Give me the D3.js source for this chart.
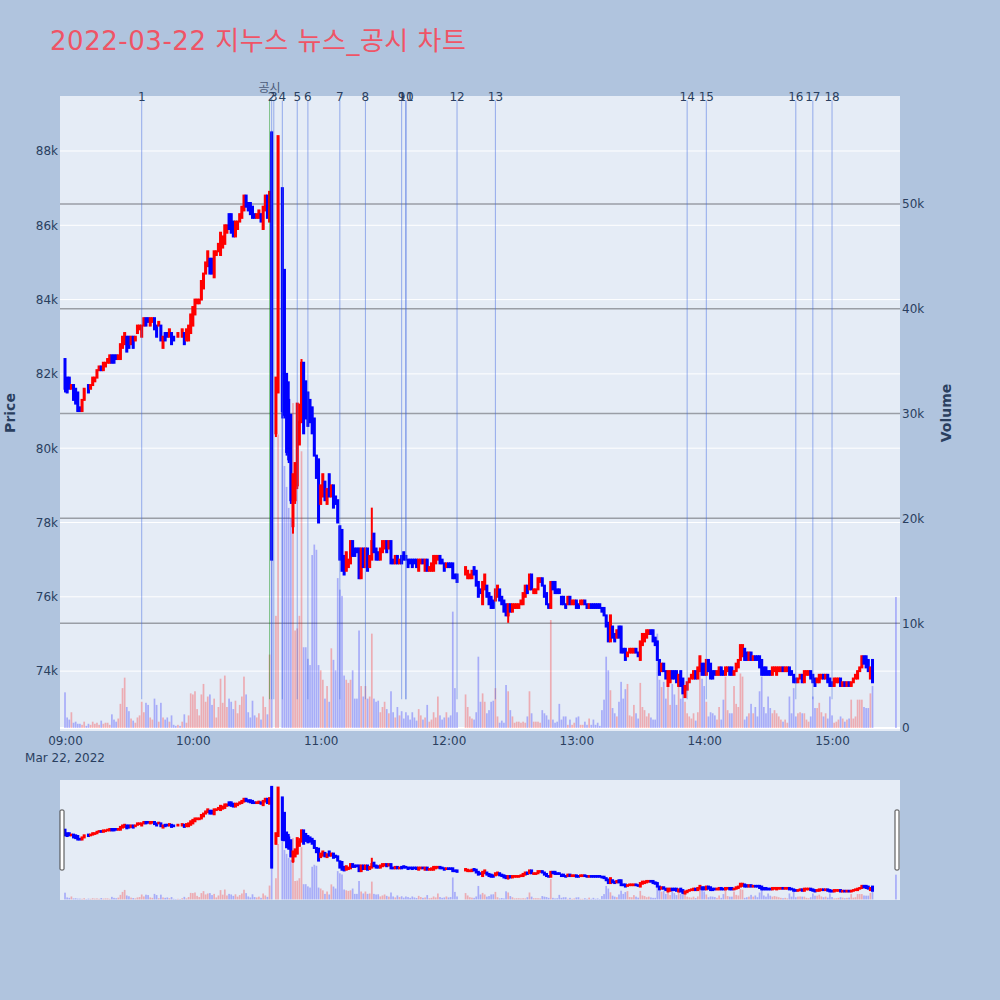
<!DOCTYPE html>
<html><head><meta charset="utf-8">
<script src="https://cdn.jsdelivr.net/npm/d3@7"></script>
<style>
body{margin:0;background:#b0c4de;}
svg{display:block;}
text{font-family:"DejaVu Sans","Noto Sans CJK KR",sans-serif;}
</style></head><body>
<svg id="c" width="1000" height="1000"></svg>
<script>
// ---------------- DATA ----------------
const chartTitle = "2022-03-22 지누스 뉴스_공시 차트";
const tradeDay = [2022, 2, 22];           // year, month index, day
const sessionStart = [9, 0];               // index i = minutes after 09:00
const priceUnit = 100;                     // values below are in units of 100 KRW
const open = [
824,819,819,816,817,816,815,811,810,813, 816,817,816,817,818,819,821,822,821,822,
823,823,825,825,825,824,824,827,828,830, 830,828,830,829,831,832,830,833,835,835,
833,834,835,833,833,833,827,831,831,830, 831,830,830,830,831,830,831,829,829,831,
833,836,839,839,840,843,847,849,851,851, 846,852,853,852,854,855,858,863,863,861,
857,859,861,862,864,868,866,866,865,863, 862,862,863,859,864,868,861,885,null,804,
815,null,870,848,820,813,809,779,786,790, 801,807,823,818,815,813,811,808,798,797,
785,787,791,785,793,787,790,787,786,779, 778,771,767,768,769,775,773,773,773,765,
773,768,773,768,770,777,773,772,770,772, 773,775,773,775,770,769,771,769,771,772,
771,770,770,770,770,770,767,769,770,767, 770,767,767,767,769,770,771,770,769,768,
769,769,769,766,766,null,null,null,766,765, 765,765,768,767,764,762,758,762,763,761,
760,759,759,760,762,760,759,758,755,758, 756,757,757,757,758,758,760,763,762,766,
761,761,762,764,765,763,761,758,757,764, 764,762,762,760,760,758,758,760,758,758,
759,758,758,758,759,758,757,758,758,758, 758,758,757,757,755,753,748,752,750,749,
752,752,746,746,744,745,745,745,746,745, 743,747,748,749,750,751,751,749,748,743,
740,742,740,736,737,740,740,740,736,740, 738,733,735,737,738,738,740,738,740,742,
742,739,743,742,740,740,739,739,741,740, 739,740,741,741,739,740,741,743,744,746,
745,743,745,743,744,744,744,743,741,741, 740,740,739,740,739,740,740,741,740,740,
741,740,739,738,737,738,739,737,739,739, 740,739,738,737,737,738,739,738,739,738,
737,736,737,737,738,736,737,736,737,736, 737,738,738,740,741,744,744,743,738,743,
null,null,null,null,null,null,null,null,null,null, 740];
const high = [
824,819,819,817,817,816,815,811,813,816, 816,817,817,819,819,821,822,822,823,823,
824,825,825,825,825,825,828,830,831,830, 830,830,830,830,833,833,833,835,835,835,
835,835,835,833,834,833,830,831,831,832, 831,830,830,831,831,832,831,832,833,836,
838,840,840,840,845,847,850,853,851,851, 853,853,855,858,857,860,860,863,863,861,
861,861,863,865,868,868,866,866,865,863, 863,864,863,865,868,868,869,885,null,819,
884,null,870,848,820,818,809,793,796,812, 812,824,823,818,815,813,811,808,798,797,
790,793,791,789,793,790,790,787,786,779, 778,771,772,770,775,775,773,773,773,773,
773,773,773,771,784,777,773,772,773,775, 775,775,775,775,770,771,771,770,771,772,
771,770,770,770,770,770,770,770,770,770, 770,768,769,771,771,771,771,770,769,769,
769,769,769,766,766,null,null,null,768,767, 766,767,768,767,764,762,764,766,763,761,
760,759,762,763,762,760,759,758,758,758, 758,758,758,758,759,761,763,763,766,766,
762,762,765,765,765,763,761,758,764,764, 764,762,762,760,760,758,760,760,759,759,
759,758,759,759,759,758,758,758,758,758, 758,758,757,757,755,753,755,752,750,751,
752,752,746,746,745,746,746,746,746,745, 748,750,750,751,751,751,751,749,748,743,
742,742,740,740,740,740,740,740,739,740, 738,736,737,738,739,740,740,741,744,742,
742,743,743,742,740,740,740,741,741,740, 741,741,741,741,740,742,743,747,747,746,
745,745,745,744,744,744,744,743,741,741, 740,740,741,741,741,741,741,741,741,741,
741,740,739,738,738,739,739,740,740,740, 740,739,738,738,739,739,739,739,739,738,
737,738,738,738,738,737,737,737,737,737, 738,739,740,741,744,744,744,743,741,743,
null,null,null,null,null,null,null,null,null,null, 740];
const low = [
815,815,816,816,813,812,810,810,810,813, 816,815,816,817,818,819,821,821,821,822,
823,823,823,823,824,824,824,827,828,826, 827,828,827,829,831,832,830,833,833,834,
833,834,832,830,833,829,827,829,830,830, 828,829,830,830,831,830,828,829,829,831,
833,836,839,839,840,843,847,849,847,847, 846,852,853,852,854,855,858,859,858,857,
857,859,861,862,864,865,864,863,862,862, 862,862,861,859,864,862,861,770,null,803,
815,null,808,808,798,796,785,777,785,789, 801,807,804,808,806,807,804,798,792,780,
785,787,786,785,787,787,784,785,780,770, 767,766,767,768,769,771,771,772,765,765,
768,768,767,768,770,772,770,770,770,772, 773,772,773,769,769,769,769,769,769,770,
770,768,769,768,769,768,767,769,769,767, 767,767,767,767,769,770,769,769,767,768,
768,768,765,765,764,null,null,null,766,765, 765,765,766,763,760,761,758,762,760,758,
757,757,759,760,759,758,756,755,753,756, 756,757,757,757,758,758,760,761,762,762,
761,761,762,764,763,760,758,757,757,762, 761,761,761,758,758,757,758,758,758,758,
757,757,758,758,758,757,757,757,757,757, 757,757,756,755,752,748,748,749,748,749,
749,745,745,743,744,745,745,745,745,744, 743,747,748,749,750,750,748,747,743,739,
740,740,738,736,737,738,738,737,736,736, 734,733,735,737,738,738,738,738,740,739,
739,739,740,738,738,739,739,739,739,739, 739,740,739,739,739,740,741,743,744,743,
743,743,743,743,743,743,741,739,739,739, 739,739,739,740,739,740,740,740,740,740,
739,739,737,737,737,738,737,737,739,739, 738,737,736,737,737,738,738,738,737,736,
736,736,737,737,736,736,736,736,736,736, 737,738,738,740,741,742,741,740,738,737,
null,null,null,null,null,null,null,null,null,null, 740];
const close = [
816,815,816,817,813,812,810,810,813,816, 816,815,817,819,819,821,822,821,823,823,
824,825,823,823,824,825,828,830,831,826, 827,830,827,830,833,833,833,835,833,834,
835,835,832,830,834,829,830,829,830,832, 828,829,830,831,831,832,828,832,833,836,
838,840,840,840,845,847,850,853,847,847, 853,853,855,858,857,860,860,859,858,857,
861,861,863,865,868,865,864,863,862,862, 863,864,861,865,868,862,869,770,null,819,
884,null,810,809,799,797,786,793,796,812, 807,823,804,808,806,807,804,798,792,780,
790,793,786,789,787,790,784,785,780,770, 767,766,772,770,775,771,771,772,765,773,
768,773,767,771,775,772,770,770,773,775, 775,772,775,769,769,771,769,770,769,770,
770,768,769,768,769,768,770,770,769,770, 767,768,769,771,771,771,769,769,767,769,
768,768,765,765,764,null,null,null,768,767, 766,767,766,763,760,761,764,766,760,758,
757,757,762,763,759,758,756,755,758,756, 758,758,758,758,759,761,763,761,766,762,
762,762,765,765,763,760,758,757,764,762, 761,761,761,758,758,757,760,758,759,759,
757,757,759,759,758,757,758,757,757,757, 757,757,756,755,752,748,755,749,748,751,
749,745,745,743,745,746,746,746,745,744, 748,750,750,751,751,750,748,747,743,739,
742,740,738,740,740,738,738,737,739,736, 734,736,737,738,739,740,738,741,744,739,
739,743,740,738,738,739,740,741,739,739, 741,741,739,739,740,742,743,747,747,743,
743,745,743,744,743,743,741,739,739,739, 739,739,741,741,741,741,741,740,741,741,
739,739,737,737,738,739,737,740,740,740, 738,737,736,738,739,739,738,739,737,736,
736,738,738,738,736,737,736,737,736,737, 738,739,740,741,744,742,741,740,741,737,
null,null,null,null,null,null,null,null,null,null, 740];
const volumeK = [  // thousands of shares
3.4,1.0,0.8,1.5,0.5,0.6,0.4,0.4,0.3,0.6, 0.2,0.4,0.3,0.6,0.4,0.5,0.3,0.7,0.4,0.5,
0.5,0.3,1.3,0.8,0.6,0.9,2.3,3.8,4.8,2.0, 1.6,0.9,0.7,0.5,1.0,1.2,2.5,1.5,2.4,2.2,
1.0,0.8,2.8,2.2,0.6,2.4,1.0,0.8,1.0,0.6, 1.2,0.3,0.2,0.3,0.2,0.6,1.3,0.5,1.2,3.3,
3.2,3.5,1.8,1.2,3.2,4.2,2.5,3.0,3.2,2.2, 2.8,1.0,2.0,4.7,2.4,5.0,2.0,2.8,2.5,1.8,
2.6,1.4,2.2,3.0,4.9,3.2,1.5,1.0,2.6,1.2, 1.0,1.4,0.8,3.0,2.0,1.3,7.0,57,null,10.7,
28,null,30,25,23,21,20,31,9.3,9.5, 10.7,26.4,7.7,7.7,6.6,6.0,16.5,17.5,17,6.0,
5.5,4.6,2.8,4.0,2.5,7.6,6.5,5.5,14.3,13.2, 12.6,5.0,4.6,4.3,4.6,5.5,2.8,2.8,9.3,4.0,
3.0,4.0,2.8,3.0,9.0,2.8,2.5,2.6,1.5,2.0, 2.5,1.8,1.4,3.5,1.5,1.0,2.0,1.2,1.6,0.9,
1.5,1.2,0.8,1.5,1.0,0.7,1.8,1.2,0.8,1.0, 2.2,0.6,0.8,1.5,1.0,3.0,1.2,0.8,1.0,1.5,
1.0,1.2,11.1,3.8,1.5,null,null,null,3.2,2.0, 1.1,0.9,0.8,1.5,6.8,2.5,3.3,2.5,1.4,1.7,
2.5,2.6,3.8,1.1,0.5,0.7,0.5,4.1,3.5,1.7, 1.1,0.5,0.6,0.6,0.5,0.6,0.5,1.1,3.5,1.4,
0.6,0.6,0.6,0.5,1.7,1.4,1.2,0.8,10.3,0.8, 0.5,0.6,2.3,0.8,1.1,1.1,0.3,0.8,0.3,0.5,
1.0,1.1,0.3,0.3,0.6,0.3,0.9,0.3,0.8,0.3, 0.5,0.2,1.7,2.7,6.8,5.5,3.6,1.9,1.4,1.1,
2.5,4.4,2.8,3.7,4.2,1.2,1.1,2.2,1.4,0.9, 4.3,2.0,1.7,1.1,1.4,1.0,0.8,0.8,9.0,4.6,
3.9,4.4,2.8,4.0,2.2,4.2,3.2,2.2,4.4,2.8, 3.2,2.5,1.4,1.1,0.9,1.4,0.7,1.5,6.8,4.7,
4.0,2.5,1.1,1.5,1.4,1.2,0.8,2.0,0.8,2.7, 4.9,1.7,1.4,1.4,4.0,2.3,2.0,5.2,4.9,0.8,
1.1,1.4,2.3,1.4,2.0,1.1,3.5,4.9,2.0,1.4, 3.0,1.9,1.4,1.7,1.4,1.1,0.8,0.6,0.8,0.5,
3.0,1.4,3.8,1.1,1.4,1.5,1.4,1.4,0.8,0.6, 1.1,3.0,1.9,1.9,2.4,1.5,1.1,1.4,0.9,3.0,
1.2,0.5,0.6,0.8,1.1,0.9,0.6,0.8,0.9,2.7, 0.9,1.1,2.7,2.7,2.7,2.0,1.9,1.9,3.3,4.0,
null,null,null,null,null,null,null,null,null,null, 12.5];

const newsLabels = ["1","2","3","4","5","6","7","8","9","10","11","12","13","14","15","16","17","18"];
const newsTimes  = ["09:36","10:37","10:38","10:42","10:49","10:54","11:09","11:21","11:38","11:40","11:40",
                    "12:04","12:22","13:52","14:01","14:43","14:51","15:00"];
const disclosureLabels = ["공시"];
const disclosureTimes  = ["10:36"];

const priceTicks  = [74000,76000,78000,80000,82000,84000,86000,88000];
const volumeTicks = [0,10000,20000,30000,40000,50000];
const timeTicks   = ["09:00","10:00","11:00","12:00","13:00","14:00","15:00"];
const dateLabel   = "Mar 22, 2022";
const priceRange  = [72388, 89480];
const volumeRange = [-290, 60300];

// ---------------- CHART ----------------
const svg = d3.select("#c");
const W = 1000, H = 1000;
const M = {l:60, r:900, t:96, b:731};
const S = {t:780, b:900};
const UP = "#ff0000", DOWN = "#0000ff";
const FONT = '"DejaVu Sans","Noto Sans CJK KR",sans-serif';

const t = hm => { const [h,m] = hm.split(":").map(Number); return new Date(tradeDay[0],tradeDay[1],tradeDay[2],h,m); };
const tIdx = i => new Date(tradeDay[0],tradeDay[1],tradeDay[2],sessionStart[0],sessionStart[1]+i);

const candles = open.map((o,i)=>({i, time:tIdx(i), o:o==null?null:o*priceUnit, h:high[i]==null?null:high[i]*priceUnit,
  l:low[i]==null?null:low[i]*priceUnit, c:close[i]==null?null:close[i]*priceUnit, v:volumeK[i]==null?null:volumeK[i]*1000}))
  .filter(d=>d.o!=null);

const x = d3.scaleTime()
  .domain([new Date(+tIdx(0) - 141000), new Date(+tIdx(open.length-1) + 114000)])
  .range([M.l, M.r]);
const yP = d3.scaleLinear().domain(priceRange).range([M.b, M.t]);
const yV = d3.scaleLinear().domain(volumeRange).range([M.b, M.t]);
const yPs = d3.scaleLinear().domain(priceRange).range([S.b, S.t]);
const yVs = d3.scaleLinear().domain(volumeRange).range([S.b, S.t]);

// backgrounds
svg.append("rect").attr("width",W).attr("height",H).attr("fill","#b0c4de");
svg.append("rect").attr("x",M.l).attr("y",M.t).attr("width",M.r-M.l).attr("height",M.b-M.t).attr("fill","#e5ecf6");

// title
svg.append("text").attr("x",50).attr("y",50).attr("font-size",26).attr("fill","#ef5466")
  .attr("textLength",416).attr("lengthAdjust","spacing").text(chartTitle);

// grid
const g = svg.append("g");
g.selectAll(".pg").data(priceTicks).join("line")
  .attr("x1",M.l).attr("x2",M.r).attr("y1",d=>yP(d)).attr("y2",d=>yP(d))
  .attr("stroke","#ffffff").attr("stroke-width",1);
g.selectAll(".vg").data(volumeTicks.filter(d=>d>0)).join("line")
  .attr("x1",M.l).attr("x2",M.r).attr("y1",d=>yV(d)).attr("y2",d=>yV(d))
  .attr("stroke","#9a9ea6").attr("stroke-width",1.5);
g.append("line").attr("x1",M.l).attr("x2",M.r).attr("y1",yV(0)).attr("y2",yV(0))
  .attr("stroke","#ffffff").attr("stroke-width",2);

function drawCandles(sel, yScale, yVol){
  const cg = sel.append("g");
  cg.selectAll("line").data(candles).join("line")
    .attr("x1",d=>x(d.time)).attr("x2",d=>x(d.time))
    .attr("y1",d=>yScale(d.h)).attr("y2",d=>yScale(d.l))
    .attr("stroke",d=>d.c>d.o?UP:DOWN).attr("stroke-width",2);
  cg.selectAll("rect").data(candles).join("rect")
    .attr("x",d=>x(d.time)-0.5).attr("width",1)
    .attr("y",d=>yScale(Math.max(d.o,d.c))).attr("height",d=>Math.abs(yScale(d.o)-yScale(d.c)))
    .attr("fill",d=>d.c>d.o?UP:DOWN).attr("stroke",d=>d.c>d.o?UP:DOWN).attr("stroke-width",2);
  const vg = sel.append("g");
  vg.selectAll("rect").data(candles.filter(d=>d.v!=null)).join("rect")
    .attr("x",d=>x(d.time)-0.85).attr("width",1.7)
    .attr("y",d=>yVol(d.v)).attr("height",d=>yVol(0)-yVol(d.v))
    .attr("fill",d=>d.c>d.o?"rgba(255,0,0,0.27)":"rgba(0,0,255,0.27)");
}
drawCandles(svg, yP, yV);

// news lines
const lineTop = M.t + 4.5, lineBot = M.b - 0.05*(M.b-M.t);
const nl = svg.append("g");
nl.selectAll("line.d").data(disclosureTimes).join("line")
  .attr("x1",d=>x(t(d))).attr("x2",d=>x(t(d))).attr("y1",lineTop).attr("y2",lineBot)
  .attr("stroke","rgba(0,140,0,0.45)").attr("stroke-width",1);
nl.selectAll("line.n").data(newsTimes).join("line")
  .attr("x1",d=>x(t(d))).attr("x2",d=>x(t(d))).attr("y1",lineTop).attr("y2",lineBot)
  .attr("stroke","rgba(65,105,225,0.5)").attr("stroke-width",1);
nl.selectAll("text.n").data(newsTimes).join("text")
  .attr("x",d=>x(t(d))).attr("y",M.t+4.5).attr("text-anchor","middle")
  .attr("font-size",12).attr("fill","#2a3f5f").text((d,i)=>newsLabels[i]);
nl.selectAll("text.d").data(disclosureTimes).join("text")
  .attr("x",d=>x(t(d))).attr("y",M.t-4).attr("text-anchor","middle")
  .attr("font-size",12).attr("fill","#4a5a78").text((d,i)=>disclosureLabels[i]);

// axes
const axL = svg.append("g").attr("transform",`translate(${M.l-2},0)`)
  .call(d3.axisLeft(yP).tickValues(priceTicks).tickSize(0).tickPadding(0).tickFormat(d=>d/1000+"k"));
const axR = svg.append("g").attr("transform",`translate(${M.r+2},0)`)
  .call(d3.axisRight(yV).tickValues(volumeTicks).tickSize(0).tickPadding(0).tickFormat(d=>d===0?"0":d/1000+"k"));
const axB = svg.append("g").attr("transform",`translate(0,${M.b+2})`)
  .call(d3.axisBottom(x).tickValues(timeTicks.map(t)).tickSize(0).tickPadding(3).tickFormat(d3.timeFormat("%H:%M")));
[axL,axR,axB].forEach(a=>{a.select(".domain").remove(); a.selectAll("text").attr("font-size",12).attr("fill","#2a3f5f").attr("font-family",FONT);});
svg.append("text").attr("x",x(t(timeTicks[0]))).attr("y",762).attr("text-anchor","middle")
  .attr("font-size",12).attr("fill","#2a3f5f").text(dateLabel);

// axis titles
svg.append("text").attr("transform","translate(15,413) rotate(-90)").attr("text-anchor","middle")
  .attr("font-size",14).attr("font-weight","bold").attr("fill","#2a3f5f").text("Price");
svg.append("text").attr("transform","translate(951,413) rotate(-90)").attr("text-anchor","middle")
  .attr("font-size",14).attr("font-weight","bold").attr("fill","#2a3f5f").text("Volume");

// range slider
svg.append("rect").attr("x",M.l).attr("y",S.t).attr("width",M.r-M.l).attr("height",S.b-S.t).attr("fill","#e5ecf6");
const sg = svg.append("g");
sg.append("clipPath").attr("id","sc").append("rect").attr("x",M.l).attr("y",S.t).attr("width",M.r-M.l).attr("height",S.b-S.t);
const sIn = sg.append("g").attr("clip-path","url(#sc)");
drawCandles(sIn, yPs, yVs);
[M.l+2, M.r-3].forEach(hx=>{
  svg.append("rect").attr("x",hx-2).attr("y",810).attr("width",4).attr("height",60).attr("rx",1)
    .attr("fill","#ffffff").attr("stroke","#444").attr("stroke-width",1);
});
</script></body></html>
